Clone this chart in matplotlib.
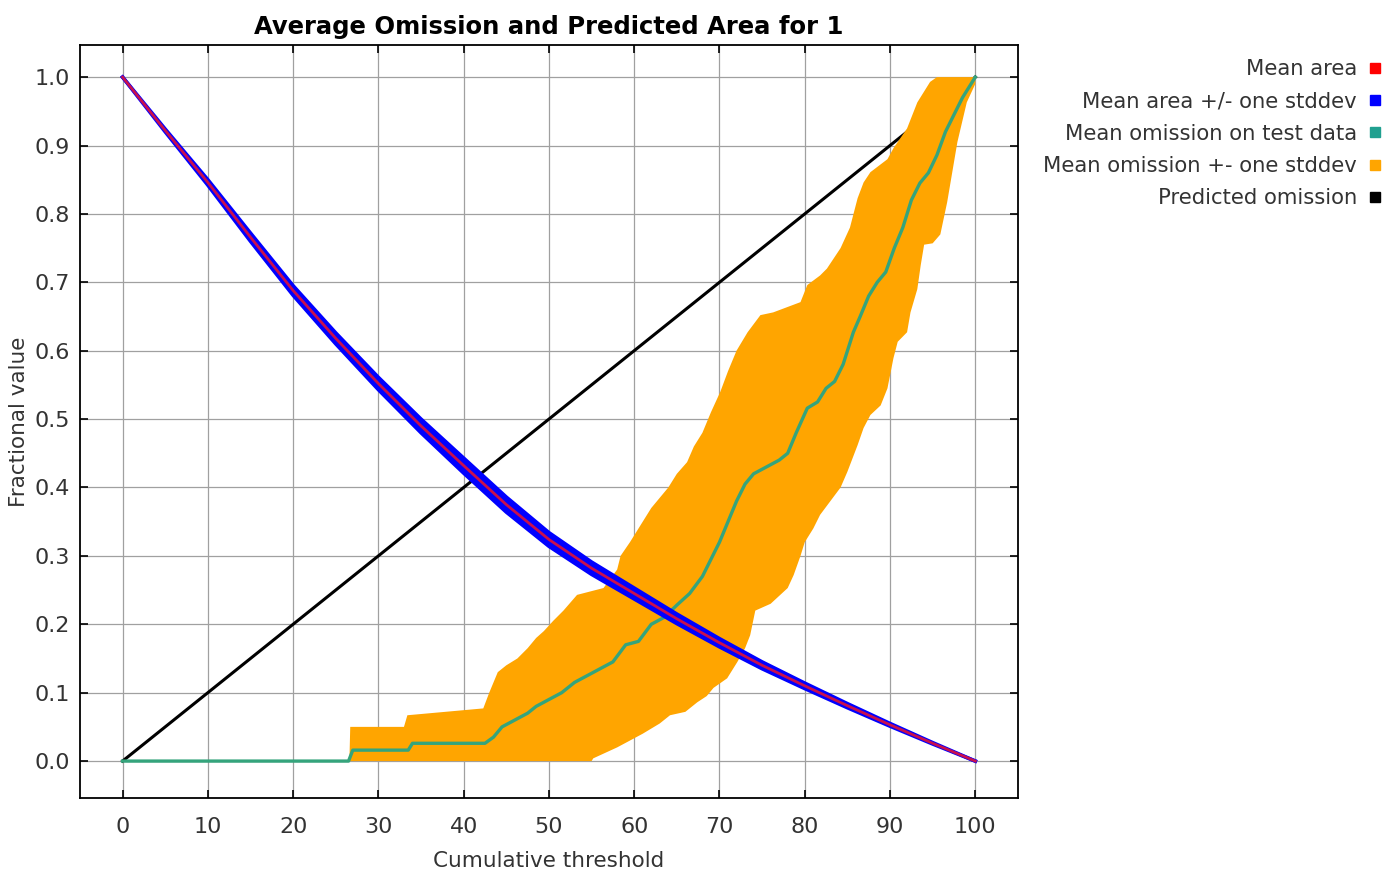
import numpy as np
import matplotlib
matplotlib.use("Agg")
import matplotlib.pyplot as plt
from matplotlib.lines import Line2D

# Mean area (fraction of predicted area) every 5 threshold units
area_x = [0, 5, 10, 15, 20, 25, 30, 35, 40, 45, 50, 55, 60, 65, 70, 75, 80, 85, 90, 95, 100]
area_mean = [1.0, 0.922, 0.846, 0.766, 0.688, 0.618, 0.552, 0.490, 0.432, 0.375, 0.324,
             0.282, 0.245, 0.208, 0.173, 0.140, 0.110, 0.081, 0.053, 0.026, 0.0]
area_std = [0.0, 0.002, 0.004, 0.006, 0.007, 0.008, 0.009, 0.010, 0.011, 0.011, 0.010,
            0.009, 0.008, 0.007, 0.006, 0.005, 0.004, 0.003, 0.002, 0.001, 0.0]

# Mean omission on test data
om_x = [0, 26.5, 27, 33.5, 34, 42.5, 43.5, 44.5, 46, 47.5, 48.5, 50, 51.5, 53, 54.5, 56, 57.5,
        59, 60.5, 62, 63.5, 65, 66.5, 68, 69, 70, 71, 72, 73, 74, 75.5, 77, 78, 79, 80.3, 81.5,
        82.5, 83.5, 84.5, 85.7, 86.5, 87.5, 88.5, 89.5, 90.5, 91.5, 92.5, 93.5, 94.5, 95.5,
        96.5, 97.5, 98.5, 99.5, 100]
om_y = [0, 0, 0.016, 0.016, 0.026, 0.026, 0.035, 0.05, 0.06, 0.07, 0.08, 0.09, 0.10, 0.115,
        0.125, 0.135, 0.145, 0.17, 0.175, 0.20, 0.21, 0.228, 0.245, 0.27, 0.295, 0.32, 0.35,
        0.38, 0.405, 0.42, 0.43, 0.44, 0.45, 0.48, 0.516, 0.525, 0.545, 0.555, 0.58, 0.627,
        0.65, 0.68, 0.70, 0.715, 0.75, 0.78, 0.82, 0.845, 0.86, 0.886, 0.92, 0.945, 0.97,
        0.99, 1.0]

# Mean omission +- one stddev (upper and lower edges)
up_x = [26.6, 26.7, 33.0, 33.4, 42.3, 43, 44, 45, 46.3, 47.5, 48.5, 49.4, 50.5, 51.7, 53.3,
        56.4, 58, 58.4, 59.5, 61, 62, 63, 64, 65, 66.2, 67, 68, 69, 70.1, 71, 72, 73.3, 74.8,
        76.3, 79.5, 80.3, 81.8, 82.6, 84.2, 85.3, 86.2, 86.9, 87.7, 89.7, 90.4, 92, 93.2,
        94.7, 95.5, 100]
up_y = [0.0, 0.05, 0.05, 0.067, 0.077, 0.10, 0.13, 0.14, 0.15, 0.165, 0.18, 0.19, 0.205, 0.22,
        0.243, 0.253, 0.28, 0.30, 0.32, 0.35, 0.37, 0.385, 0.40, 0.42, 0.437, 0.46, 0.48, 0.51,
        0.54, 0.57, 0.60, 0.627, 0.652, 0.656, 0.671, 0.696, 0.71, 0.72, 0.75, 0.78, 0.823,
        0.846, 0.861, 0.88, 0.896, 0.925, 0.963, 0.993, 1.0, 1.0]
lo_x = [26.6, 55, 55.2, 58, 59.5, 61, 63, 64.2, 66, 67.4, 68.5, 69.3, 70.9, 72.1, 73, 73.6,
        74.2, 76, 78, 78.7, 79.5, 80, 81, 81.8, 83, 84.2, 85, 86.2, 86.9, 87.7, 88.9, 89.7,
        90.4, 90.9, 92, 92.4, 93.2, 93.6, 94, 95, 95.9, 96.7, 97.9, 99, 100]
lo_y = [0, 0, 0.004, 0.02, 0.03, 0.04, 0.055, 0.067, 0.072, 0.086, 0.095, 0.107, 0.121, 0.145,
        0.165, 0.184, 0.22, 0.23, 0.253, 0.272, 0.30, 0.32, 0.34, 0.36, 0.38, 0.40, 0.423,
        0.462, 0.487, 0.506, 0.52, 0.545, 0.589, 0.613, 0.627, 0.656, 0.69, 0.725, 0.755,
        0.757, 0.77, 0.817, 0.905, 0.963, 0.99]

# Predicted omission
pred_x = [0, 100]
pred_y = [0, 1]

legend_labels = ["Mean area", "Mean area +/- one stddev", "Mean omission on test data",
                 "Mean omission +- one stddev", "Predicted omission"]
legend_colors = ["#FF0000", "#0000FF", "#20A090", "#FFA500", "#000000"]

plt.rcParams["font.family"] = ["DejaVu Sans"]

fig = plt.figure(figsize=(13.95, 8.73), dpi=100)
ax = fig.add_axes([0.0573, 0.0859, 0.6724, 0.8626])

ax.plot(pred_x, pred_y, color="black", lw=2.2, zorder=2)
ax.fill(np.concatenate([up_x, lo_x[::-1]]), np.concatenate([up_y, lo_y[::-1]]),
        color="#FFA500", lw=0, zorder=3)
ax.plot(om_x, om_y, color="#35A47C", lw=2.4, zorder=4)

am = np.array(area_mean)
sd = np.array(area_std)
ax.fill_between(area_x, am - sd, am + sd, color="#0000FF", lw=0, zorder=5)
ax.plot(area_x, am + sd, color="#0000FF", lw=2.6, zorder=5, solid_joinstyle="round")
ax.plot(area_x, am - sd, color="#0000FF", lw=2.6, zorder=5, solid_joinstyle="round")
ax.plot(area_x, am, color="#C8104E", lw=2.0, zorder=6, solid_joinstyle="round")

ax.set_xlim(-5, 105)
ax.set_ylim(-0.054, 1.047)
ax.set_xticks(np.arange(0, 101, 10))
ax.set_yticks(np.round(np.arange(0, 1.01, 0.1), 1))
ax.set_yticklabels([f"{v:.1f}" for v in np.arange(0, 1.01, 0.1)])
ax.grid(True, color="#a0a0a0", lw=0.9)
ax.set_axisbelow(True)
ax.tick_params(direction="in", length=6, width=1.2, top=True, right=True,
               labelsize=16, colors="black", labelcolor="#333333")
ax.tick_params(axis="x", pad=14)
ax.tick_params(axis="y", pad=7)
for s in ax.spines.values():
    s.set_linewidth(1.3)

ax.set_title("Average Omission and Predicted Area for 1", fontsize=17.5,
             fontweight="bold", pad=8)
ax.set_xlabel("Cumulative threshold", fontsize=15.5, color="#333333", labelpad=10)
ax.set_ylabel("Fractional value", fontsize=15.5, color="#333333", labelpad=4)

handles = [Line2D([], [], ls="", marker="s", markersize=7, color=c) for c in legend_colors]
fig.legend(handles, legend_labels, loc="upper right", bbox_to_anchor=(0.990, 0.932),
           borderaxespad=0, borderpad=0, frameon=False, markerfirst=False, fontsize=15.2,
           handlelength=0.6, handletextpad=0.55, labelspacing=0.58, labelcolor="#333333")

fig.savefig("out.png", dpi=100)
